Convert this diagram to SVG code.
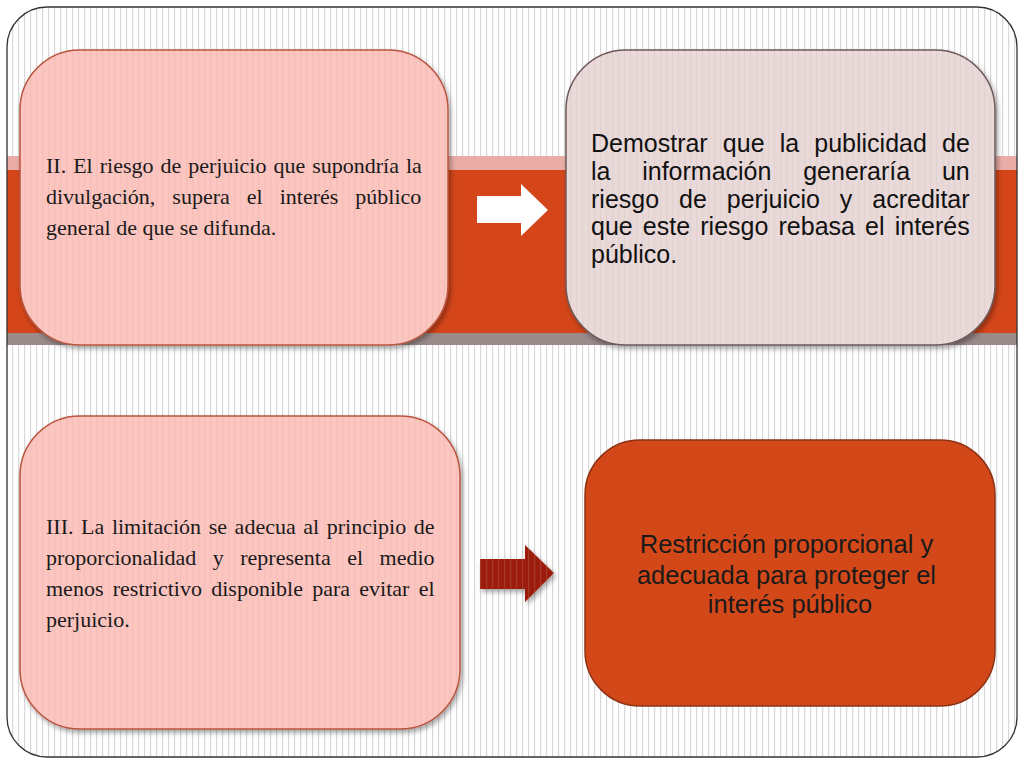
<svg xmlns="http://www.w3.org/2000/svg" width="1024" height="768" viewBox="0 0 1024 768">
  <defs>
    <pattern id="stripes" width="6" height="10" patternUnits="userSpaceOnUse">
      <rect width="6" height="10" fill="#ffffff"/>
      <rect x="0" width="1.2" height="10" fill="#d9d9d9"/>
    </pattern>
    <pattern id="fineStripes" width="6" height="10" patternUnits="userSpaceOnUse">
      <rect x="0" width="1.2" height="10" fill="#000000" fill-opacity="0.035"/>
    </pattern>
    <pattern id="arrowStripes" width="6" height="10" patternUnits="userSpaceOnUse">
      <rect x="0" width="1.2" height="10" fill="#ffffff" fill-opacity="0.12"/>
    </pattern>
    <filter id="shadow" x="-10%" y="-10%" width="125%" height="125%">
      <feDropShadow dx="2" dy="3" stdDeviation="2.5" flood-color="#000" flood-opacity="0.35"/>
    </filter>
    <clipPath id="frameClip">
      <rect x="7" y="7" width="1010" height="750" rx="40" ry="40"/>
    </clipPath>
  </defs>
  <style>
    .serif { font-family: "Liberation Serif", "DejaVu Serif", serif; font-size: 22px; fill: #1a1a1a; }
    .sans { font-family: "Liberation Sans", Arial, sans-serif; font-size: 25px; fill: #111111; }
    .sans2 { font-family: "Liberation Sans", Arial, sans-serif; font-size: 25.5px; fill: #1a1a1a; }
    .pink { fill: #fdc5c0; stroke: #b9553f; stroke-width: 1.5; }
    .grey { fill: #e9d9d8; stroke: #6e5a5a; stroke-width: 1.5; }
    .orange { fill: #d34819; stroke: #8c3214; stroke-width: 1.5; }
  </style>

  <rect width="1024" height="768" fill="#ffffff"/>
  <g id="background" clip-path="url(#frameClip)">
    <rect x="7" y="7" width="1010" height="750" fill="url(#stripes)"/>
    <rect x="7" y="156" width="1010" height="15" fill="#e9aca6"/>
    <rect x="7" y="170" width="1010" height="164" fill="#d4461a"/>
    <rect x="7" y="333" width="1010" height="12" fill="#9b8a8a"/>
  </g>
  <rect x="7" y="7" width="1010" height="750" rx="40" ry="40" fill="none" stroke="#333333" stroke-width="1.3"/>

  <g id="node-ii">
    <rect class="pink" x="20" y="50" width="428" height="295" rx="60" ry="60" filter="url(#shadow)"/>
    <rect x="20" y="50" width="428" height="295" rx="60" ry="60" fill="url(#fineStripes)"/>
    <text class="serif">
      <tspan x="46" y="173" word-spacing="1.5">II. El riesgo de perjuicio que supondría la</tspan>
      <tspan x="46" y="204" word-spacing="11.5">divulgación, supera el interés público</tspan>
      <tspan x="46" y="235">general de que se difunda.</tspan>
    </text>
  </g>

  <g id="node-demostrar">
    <rect class="grey" x="566" y="50" width="429" height="295" rx="60" ry="60" filter="url(#shadow)"/>
    <rect x="566" y="50" width="429" height="295" rx="60" ry="60" fill="url(#fineStripes)"/>
    <text class="sans">
      <tspan x="591" y="152" word-spacing="8.2">Demostrar que la publicidad de</tspan>
      <tspan x="591" y="180" word-spacing="24.8">la información generaría un</tspan>
      <tspan x="591" y="208" word-spacing="13">riesgo de perjuicio y acreditar</tspan>
      <tspan x="591" y="235" word-spacing="3.2">que este riesgo rebasa el interés</tspan>
      <tspan x="591" y="263">público.</tspan>
    </text>
  </g>

  <g id="node-iii">
    <rect class="pink" x="20" y="416" width="440" height="313" rx="60" ry="60" filter="url(#shadow)"/>
    <rect x="20" y="416" width="440" height="313" rx="60" ry="60" fill="url(#fineStripes)"/>
    <text class="serif">
      <tspan x="46" y="534" word-spacing="2.1">III. La limitación se adecua al principio de</tspan>
      <tspan x="46" y="565" word-spacing="11">proporcionalidad y representa el medio</tspan>
      <tspan x="46" y="596" word-spacing="3.8">menos restrictivo disponible para evitar el</tspan>
      <tspan x="46" y="627">perjuicio.</tspan>
    </text>
  </g>

  <g id="node-restriccion">
    <rect class="orange" x="585" y="440" width="410" height="266" rx="55" ry="55"/>
    <text class="sans2" text-anchor="middle">
      <tspan x="790" y="553">Restricción proporcional y</tspan>
      <tspan x="790" y="584">adecuada para proteger el</tspan>
      <tspan x="790" y="613">interés público</tspan>
    </text>
  </g>

  <g id="connectors">
    <polygon points="477,196 521,196 521,184 548,210 521,236 521,223 477,223" fill="#ffffff"/>
    <polygon points="480,559 525,559 525,545 554,573 525,602 525,589 480,589" fill="#9b1d0b" filter="url(#shadow)"/>
    <polygon points="480,559 525,559 525,545 554,573 525,602 525,589 480,589" fill="url(#arrowStripes)"/>
  </g>
</svg>
